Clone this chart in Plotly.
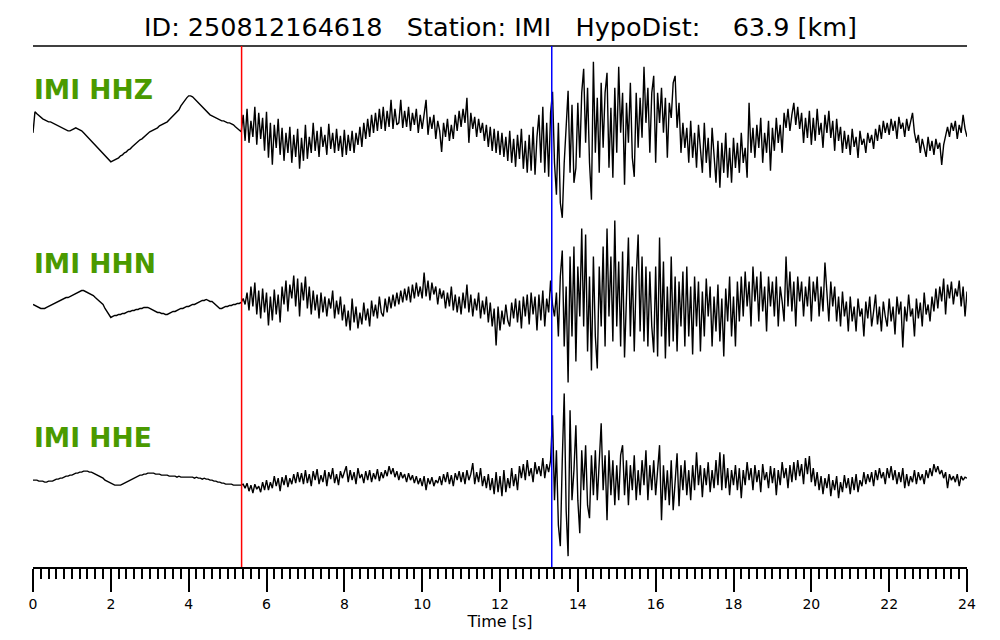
import numpy as np
import plotly.graph_objects as go

# ---------------- data ----------------
DT = 0.05

channels = ["IMI HHZ", "IMI HHN", "IMI HHE"]

hhz = [
    0, 21, 19, 17, 15, 14, 13, 12, 11, 11, 10, 9, 8, 7, 6, 5, 4, 3, 2, 2,
    3, 4, 5, 4, 3, 2, 0, -2, -4, -6, -8, -11, -13, -15, -17, -19, -21, -23, -25, -27,
    -29, -28, -27, -26, -25, -23, -22, -20, -19, -17, -16, -14, -12, -11, -9, -7, -6, -4, -2, -1,
    1, 2, 3, 4, 5, 7, 8, 9, 10, 11, 13, 15, 16, 18, 20, 23, 27, 30, 33, 35,
    37, 37, 36, 34, 32, 30, 27, 25, 23, 21, 20, 18, 17, 16, 15, 14, 13, 12, 12, 11,
    10, 10, 9, 8, 6, 4, 2, 1, 18, -8, 24, -10, 12, -4, 26, -12, 20, -6, 15, -18,
    21, -25, 10, -32, 8, -15, 14, -22, 5, -28, 0, -20, 6, -30, -2, -24, 4, -36, -5, -28,
    8, -26, -4, -20, 10, -18, 2, -24, 6, -14, -2, -22, 9, -16, 0, -20, 4, -18, -3, -24,
    3, -22, -2, -18, 2, -20, 0, -12, 6, -14, 10, -6, 14, -4, 18, 0, 20, 2, 24, 4,
    26, 2, 22, 6, 33, 4, 24, 8, 10, 33, 5, 22, 6, 26, 2, 20, 8, 24, 0, 18,
    4, 20, 33, -2, 16, 4, 18, -6, 12, 2, -19, 10, -4, 14, -8, 8, -6, 18, 2, 22,
    6, 24, 10, 35, -10, 20, 4, 16, -4, 14, 0, 10, -8, 8, -14, 6, -18, 4, -20, 2,
    -22, 0, -24, -4, -28, 2, -30, -6, -34, -2, -26, 4, -36, -8, -40, -2, -38, 6, -42, -4,
    18, -30, 26, -40, 10, -44, 20, 41, -30, -62, 10, -70, -85, -30, 10, 42, -40, 28, -50, -35,
    30, -25, 40, 64, -10, 45, -30, -67, 71, -20, 35, -40, 50, -15, 40, 60, -35, 25, -45, 45,
    -20, 66, 0, 40, -52, 30, -10, 50, -25, -44, 40, -15, 35, -5, 66, 10, 45, -20, 40, 57,
    -30, 40, 10, 45, 0, 35, -25, 30, 15, 50, 57, 5, 30, -20, 10, -15, 5, -30, 12, -25,
    0, -35, 8, -20, -40, 10, -30, -5, -45, 5, -25, -50, -8, -55, -10, -40, 0, -45, -15, -50,
    -5, -35, -10, -40, 0, -30, -15, -45, 30, -20, 5, -25, 8, -15, 15, -30, 0, -20, 12, -38,
    5, -18, 15, -10, 8, -20, 20, 5, 24, 2, 18, 30, 8, 26, 4, 20, -10, 15, -5, 22,
    -12, 15, -8, 24, -2, 10, -15, 18, 0, 22, -5, 12, -18, 14, -8, 6, -20, 2, -16, -2,
    -22, 4, -14, -4, -25, 2, -12, -6, -20, 0, -10, -2, -16, 4, -8, 8, -6, 12, 0, 10,
    -2, 14, 2, 12, -6, 16, 4, 10, -4, 14, 2, 12, 20, 0, -10, -2, -20, -6, -14, -24,
    -4, -18, -8, -22, -6, -16, -10, -32, -12, -2, 6, -4, 10, 2, 12, -6, 8, 0, 18, 4,
    -4,
]

hhn = [
    2, 1, 0, -1, -2, -2, -2, -1, 0, 1, 2, 3, 4, 5, 6, 7, 8, 9, 9, 10,
    11, 12, 13, 14, 15, 16, 16, 15, 14, 13, 12, 11, 9, 7, 5, 3, 2, -2, -5, -8,
    -11, -10, -9, -9, -8, -8, -7, -7, -6, -5, -5, -4, -4, -3, -3, -2, -2, -1, -1, -1,
    -2, -3, -4, -5, -6, -6, -7, -7, -8, -8, -7, -6, -5, -5, -4, -3, -2, -2, -1, 0,
    0, 1, 2, 2, 3, 4, 5, 6, 6, 7, 6, 5, 5, 3, 1, -1, -2, -2, -1, 0,
    0, 1, 1, 2, 2, 3, 3, 4, 8, 2, 14, -4, 20, 0, 24, -8, 16, -12, 18, -6,
    14, -19, 10, -14, 17, -8, 12, -16, 20, 2, 26, -5, 22, 8, 31, 0, 28, -10, 24, 6,
    30, -2, 20, -8, 16, -4, 12, -12, 14, -6, 10, -10, 8, -2, 16, -12, 6, -8, 10, -14,
    2, -20, -4, -24, 8, -16, 0, -22, -6, -18, 4, -14, -2, -20, 6, -10, 2, -12, 10, -6,
    -10, 8, -6, 10, -2, 12, 0, 14, 2, 16, 4, 18, 6, 20, 4, 22, 8, 24, 10, 20,
    8, 34, 10, 26, 6, 24, 12, 20, 2, 18, 8, 16, -2, 14, 0, 20, -4, 12, -6, 10,
    -8, 14, -2, 22, -6, 12, -10, 8, -4, 14, -12, 6, -8, 10, -16, 4, -20, -2, -39, 0,
    -24, -4, -18, 2, -14, -20, 4, -12, 8, -16, 6, -22, 10, -10, 12, -18, 14, -8, 10, -24,
    12, -14, 16, -20, 8, -6, 26, 2, -10, 14, -30, 30, 56, -40, 20, -76, 50, -30, 60, -55,
    40, -10, 78, -20, 72, -45, 30, -64, 50, -30, -62, 40, -20, 60, -40, 78, -10, 50, -35, 86,
    -20, 45, -40, 55, -51, 20, 69, -30, 40, -45, 30, 72, -25, 50, -35, 40, -40, 35, -20, -46,
    40, -50, 69, -30, 45, -52, 20, -40, 50, -35, 30, -45, 25, -20, 35, -40, 40, -30, 20, -48,
    30, -20, 25, -45, 15, -30, 28, -10, 20, -40, 10, -25, 22, -35, 8, -50, 18, -15, 30, -30,
    10, -40, 25, -15, 30, -10, 35, 0, 25, -20, 40, 5, 30, -15, 35, -5, 20, -25, 30, 0,
    25, -10, 30, -20, 20, 5, -15, 50, 0, 35, -5, 25, -20, 30, 5, 25, -10, 20, 0, 30,
    -15, 25, 5, 30, -10, 20, -5, 44, 10, -15, 25, 0, 20, -15, 10, -20, 15, -10, 5, -25,
    10, -15, 0, -25, 8, -10, -2, -30, 5, -12, 10, -20, -5, 12, -18, 0, -25, 5, -10, -20,
    8, -15, 0, -28, 10, -8, 5, -41, 0, -15, 12, -10, -2, -30, 8, -12, 4, -20, 14, -8,
    2, -15, 10, -5, 18, -2, 20, 5, 28, -8, 22, 8, 25, 2, 18, 10, 26, 0, 20, -10,
    15,
]

hhe = [
    0, 0, 0, -1, -1, -1, -2, -2, -1, -1, -1, 0, 1, 1, 2, 2, 3, 4, 4, 5,
    5, 6, 7, 7, 8, 8, 9, 9, 9, 8, 8, 7, 6, 5, 4, 3, 2, 0, -1, -2,
    -3, -4, -5, -5, -5, -5, -4, -3, -2, -1, 0, 1, 2, 3, 4, 5, 5, 6, 6, 7,
    7, 7, 7, 6, 6, 6, 5, 5, 5, 5, 4, 4, 4, 4, 3, 4, 3, 3, 3, 3,
    3, 3, 3, 2, 3, 2, 2, 1, 2, 1, 1, 0, 0, -1, -1, -2, -2, -3, -3, -4,
    -4, -4, -4, -5, -5, -5, -5, -5, -4, -8, -3, -11, -5, -13, -4, -9, -6, -12, -2, -10,
    0, -10, -2, -8, 4, -6, 2, -11, 3, -5, 5, -7, 2, -4, 6, -3, 8, -2, 7, -4,
    10, -3, 6, -6, 9, 0, 11, -4, 5, -2, 10, -6, 8, 1, 12, -3, 6, -5, 9, 2,
    8, 14, -2, 10, 0, 8, -4, 12, 2, 6, -3, 9, 0, 10, -2, 7, 1, 11, -1, 8,
    2, 10, 4, 14, 6, 12, 3, 9, 0, 8, 2, 6, -2, 7, 0, 5, -3, 4, -4, 2,
    -6, 4, -10, 2, -4, 3, -6, 0, -3, 4, -5, 6, -2, 8, -4, 5, -6, 7, 0, 9,
    -2, 8, -4, 10, 0, 6, 17, -4, 8, -2, 12, -6, 4, -8, 6, -10, 2, -14, 8, -12,
    4, -16, 10, -12, 2, -8, 12, -6, 6, -10, 14, 2, 16, 0, 20, 4, 12, -2, 18, 6,
    14, 4, 22, 2, 16, 8, 20, 65, -20, 30, -45, -66, 20, 87, -30, -76, 70, -20, 10, 55,
    -20, -53, 30, -10, 35, -25, -38, 25, -15, 30, -20, 20, 57, -10, 25, -40, 30, -15, 20, -25,
    15, -20, 25, 35, -15, 20, -25, 15, -10, 25, -20, 10, -15, 20, -5, 30, -20, 15, -10, 20,
    -15, 10, 35, -40, 15, -20, 10, -25, 20, -30, 5, 27, -26, 15, -10, 20, -15, 10, -20, 15,
    -10, 28, -5, 15, -17, 12, -5, 18, -12, 10, -8, 20, -5, 28, -10, 26, -8, 12, -15, 10,
    -5, 15, -10, 12, -18, 10, -5, 18, 0, 12, -10, 15, -2, 10, -12, 16, 0, 8, -8, 14,
    -3, 12, -15, 10, -5, 18, 2, 12, -8, 15, -2, 18, 0, 20, 4, 16, -4, 22, 6, 24,
    -2, 12, -6, 8, -10, 4, -14, 2, -8, 6, -16, 0, -10, 4, -18, -2, -12, 5, -8, 2,
    -14, 3, -10, 6, -12, 0, -6, 8, -4, 6, -2, 8, -6, 10, 0, 12, 2, 8, -4, 12,
    2, 14, 0, 10, -4, 8, -2, 12, -8, 6, -6, 4, -2, 10, -4, 8, 0, 6, -4, 10,
    2, 12, 4, 16, 8, 14, 6, 10, 2, 8, -8, 6, 0, 4, -2, 6, -6, 4, 0, 3,
    2,
]

p_pick = 5.36   # red line [s]
s_pick = 13.33  # blue line [s]

event_id = "250812164618"
station = "IMI"
hypo_dist = 63.9
time_range = [0, 24]

# ---------------- figure ----------------
NB = "\u00a0"
title_text = (f"ID:{NB}{event_id}{NB*3}Station:{NB}{station}{NB*3}"
              f"HypoDist:{NB*4}{hypo_dist:.1f}{NB}[km]")

FONT = "DejaVu Sans"
GREEN = "#4a9a00"
HALF = 86.85

series = [hhz, hhn, hhe]
yaxes = ["y", "y2", "y3"]

fig = go.Figure()
for name, vals, ya in zip(channels, series, yaxes):
    t = np.arange(len(vals)) * DT
    fig.add_trace(go.Scatter(
        x=t, y=vals, mode="lines", name=name, xaxis="x", yaxis=ya,
        line=dict(color="black", width=1.4), showlegend=False, hoverinfo="skip"))

yax = dict(range=[-HALF, HALF], visible=False, fixedrange=True)
domains = [[2/3, 1], [1/3, 2/3], [0, 1/3]]

# the page places the figure 8 px in from the top-left corner; margins compensate
fig.update_layout(
    width=1000, height=640,
    margin=dict(l=25, r=41, t=38, b=81),
    paper_bgcolor="white", plot_bgcolor="white",
    font=dict(family=FONT, color="black"),
    showlegend=False,
    xaxis=dict(
        anchor="y3", domain=[0, 1], range=time_range,
        showline=True, linecolor="black", linewidth=2,
        ticks="outside", ticklen=23, tickwidth=2, tickcolor="black",
        tick0=0, dtick=2, showgrid=False, zeroline=False,
        tickfont=dict(family=FONT, size=14, color="black"),
        title=dict(text="Time [s]", font=dict(family=FONT, size=16, color="black"), standoff=0),
        minor=dict(ticks="outside", ticklen=10, tickwidth=2, tickcolor="black",
                   tick0=0, dtick=0.2, showgrid=False),
    ),
    yaxis=dict(domain=domains[0], **yax),
    yaxis2=dict(domain=domains[1], **yax),
    yaxis3=dict(domain=domains[2], **yax),
)

# title line, pick lines
fig.add_shape(type="line", xref="paper", yref="paper", x0=0, x1=1, y0=1, y1=1,
              line=dict(color="black", width=1.5))
fig.add_shape(type="line", xref="x", yref="paper", x0=p_pick, x1=p_pick, y0=0, y1=1,
              line=dict(color="#ff0000", width=1.5))
fig.add_shape(type="line", xref="x", yref="paper", x0=s_pick, x1=s_pick, y0=0, y1=1,
              line=dict(color="#0000ff", width=1.5))

fig.add_annotation(text=title_text, xref="paper", yref="paper", x=0.5, y=1.036,
                   xanchor="center", yanchor="middle", showarrow=False,
                   font=dict(family=FONT, size=25.5, color="black"))

for name, ya in zip(channels, yaxes):
    fig.add_annotation(text=f"<b>{name}</b>", xref="paper", yref=f"{ya} domain",
                       x=0, y=0.747, xanchor="left", yanchor="middle", showarrow=False,
                       borderpad=0, font=dict(family=FONT, size=26.5, color=GREEN))

fig.write_html("out.html")
